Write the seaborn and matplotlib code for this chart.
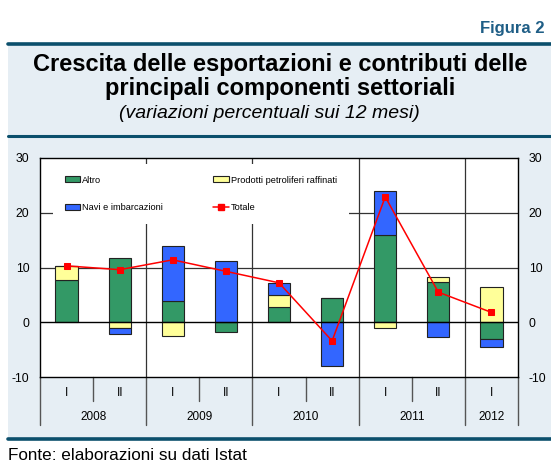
import numpy as np
import pandas as pd
import matplotlib
matplotlib.use("Agg")
import matplotlib.pyplot as plt
import matplotlib.transforms as mtransforms
from matplotlib.patches import Rectangle, Patch
from matplotlib.lines import Line2D
import seaborn as sns

# ---- data ----
periods = ["I", "II", "I", "II", "I", "II", "I", "II", "I"]
years = ["2008", "2009", "2010", "2011", "2012"]
year_spans = [2, 2, 2, 2, 1]
altro = [7.8, 11.8, 3.8, -1.8, 2.7, 4.5, 16.0, 7.4, -3.0]
prodotti = [2.5, -1.0, -2.6, 0.0, 2.2, 0.0, -1.0, 0.9, 6.4]
navi = [0.0, -1.2, 10.1, 11.1, 2.3, -8.0, 7.9, -2.7, -1.6]
totale = [10.3, 9.6, 11.4, 9.3, 7.2, -3.4, 22.9, 5.5, 1.8]
series_names = ["Altro", "Prodotti petroliferi raffinati", "Navi e imbarcazioni"]
colors = {"Altro": "#339966", "Prodotti petroliferi raffinati": "#FFFF99",
          "Navi e imbarcazioni": "#3366FF"}

sns.set_style("white")
plt.rcParams["font.family"] = ["Liberation Sans", "DejaVu Sans"]
plt.rcParams["text.color"] = "black"
plt.rcParams["ytick.color"] = "black"
plt.rcParams["ytick.labelcolor"] = "black"
plt.rcParams["axes.unicode_minus"] = False

W, H = 551, 463
fig = plt.figure(figsize=(W / 100, H / 100), dpi=100)
fig.patch.set_facecolor("white")

def fx(px):
    return px / W

def fy(py):
    return 1 - py / H

panel = "#E6EEF4"
line_c = "#0B4F6C"
fig.patches.append(Rectangle((fx(8), fy(438)), fx(551 - 8), (438 - 44) / H,
                             transform=fig.transFigure, facecolor=panel,
                             edgecolor="none", zorder=-5))
for yy in (43.5, 136, 438.5):
    fig.lines.append(Line2D([fx(8), 1], [fy(yy), fy(yy)], transform=fig.transFigure,
                            color=line_c, lw=2.6 if yy != 136 else 2.2, zorder=-4))

fig.text(fx(545), fy(28), "Figura 2", ha="right", va="center", fontsize=12,
         fontweight="bold", color="#1F5E86")
fig.text(fx(280), fy(64), "Crescita delle esportazioni e contributi delle",
         ha="center", va="center", fontsize=17, fontweight="bold")
fig.text(fx(280), fy(89), "principali componenti settoriali",
         ha="center", va="center", fontsize=17, fontweight="bold")
fig.text(fx(269), fy(113), "(variazioni percentuali sui 12 mesi)",
         ha="center", va="center", fontsize=14, style="italic")
fig.text(fx(8), fy(455), "Fonte: elaborazioni su dati Istat", ha="left", va="center",
         fontsize=12.3)

ax = fig.add_axes([fx(40), fy(377), fx(518 - 40), (377 - 158) / H])
ax.set_zorder(3)
ax.set_facecolor("white")

# ---- stacked bars via seaborn ----
x = np.arange(len(periods))
pos_base = np.zeros(len(x))
neg_base = np.zeros(len(x))
vals = {"Altro": altro, "Prodotti petroliferi raffinati": prodotti,
        "Navi e imbarcazioni": navi}
for name in series_names:
    v = np.array(vals[name], dtype=float)
    bottom = np.where(v >= 0, pos_base, neg_base)
    df = pd.DataFrame({"pos": x, "val": v})
    sns.barplot(data=df, x="pos", y="val", order=list(x), color=colors[name],
                saturation=1, width=0.42, bottom=bottom, edgecolor="#222222",
                linewidth=0.8, errorbar=None, ax=ax, zorder=3)
    pos_base = np.where(v >= 0, pos_base + v, pos_base)
    neg_base = np.where(v < 0, neg_base + v, neg_base)

tdf = pd.DataFrame({"pos": x, "Totale": totale})
sns.lineplot(data=tdf, x="pos", y="Totale", color="#FF0000", lw=1.1, marker="s",
             markersize=5, markeredgecolor="#FF0000", ax=ax, zorder=5)

ax.set_xlim(-0.5, len(x) - 0.5)
ax.set_ylim(-10, 30)
ax.set_yticks([-10, 0, 10, 20, 30])
ax.set_xticks([])
ax.set_xlabel("")
ax.set_ylabel("")
ax.tick_params(axis="y", which="both", left=False, right=False, labelleft=True,
               labelright=True, labelsize=8.8, pad=4.2)
for s in ax.spines.values():
    s.set_color("black")
    s.set_linewidth(1.0)

for yv in (10, 20):
    ax.axhline(yv, color="#333333", lw=0.9, zorder=1)
ax.axhline(0, color="black", lw=1.0, zorder=4)

# year boundaries
bounds = np.cumsum(year_spans)[:-1] - 0.5
for b in bounds:
    ax.axvline(b, color="#333333", lw=0.9, zorder=1)

# x category labels
trans = mtransforms.blended_transform_factory(ax.transData, ax.transAxes)
for i, p in enumerate(periods):
    ax.text(i, -0.073, p, transform=trans, ha="center", va="center", fontsize=8.5)
start = 0
edges = [-0.5]
for yname, span in zip(years, year_spans):
    ax.text(start + span / 2 - 0.5, -0.183, yname, transform=trans, ha="center",
            va="center", fontsize=8.5)
    start += span
    edges.append(start - 0.5)
for e in edges:
    ax.plot([e, e], [0, -0.219], transform=trans, color="#555555", lw=1.0,
            clip_on=False)
for i in range(len(periods) - 1):
    if (i + 0.5) not in edges:
        ax.plot([i + 0.5, i + 0.5], [0, -0.11], transform=trans, color="#555555",
                lw=1.0, clip_on=False)

handles = [Patch(facecolor=colors["Altro"], edgecolor="#222222", lw=0.8),
           Patch(facecolor=colors["Navi e imbarcazioni"], edgecolor="#222222", lw=0.8),
           Patch(facecolor=colors["Prodotti petroliferi raffinati"], edgecolor="#222222", lw=0.8),
           Line2D([0], [0], color="#FF0000", lw=1.1, marker="s", markersize=4.5)]
labels = ["Altro", "Navi e imbarcazioni", "Prodotti petroliferi raffinati", "Totale"]
leg = ax.legend(handles, labels, ncol=2, loc="upper left",
                bbox_to_anchor=(0.027, 0.973), borderaxespad=0, fontsize=6.7,
                frameon=True, facecolor="white", edgecolor="none", framealpha=1,
                fancybox=False, handlelength=1.7, handleheight=0.65,
                handletextpad=0.2, columnspacing=5.4, labelspacing=1.97,
                borderpad=1.25)
leg.set_zorder(2)

fig.savefig("out.png", dpi=100)
